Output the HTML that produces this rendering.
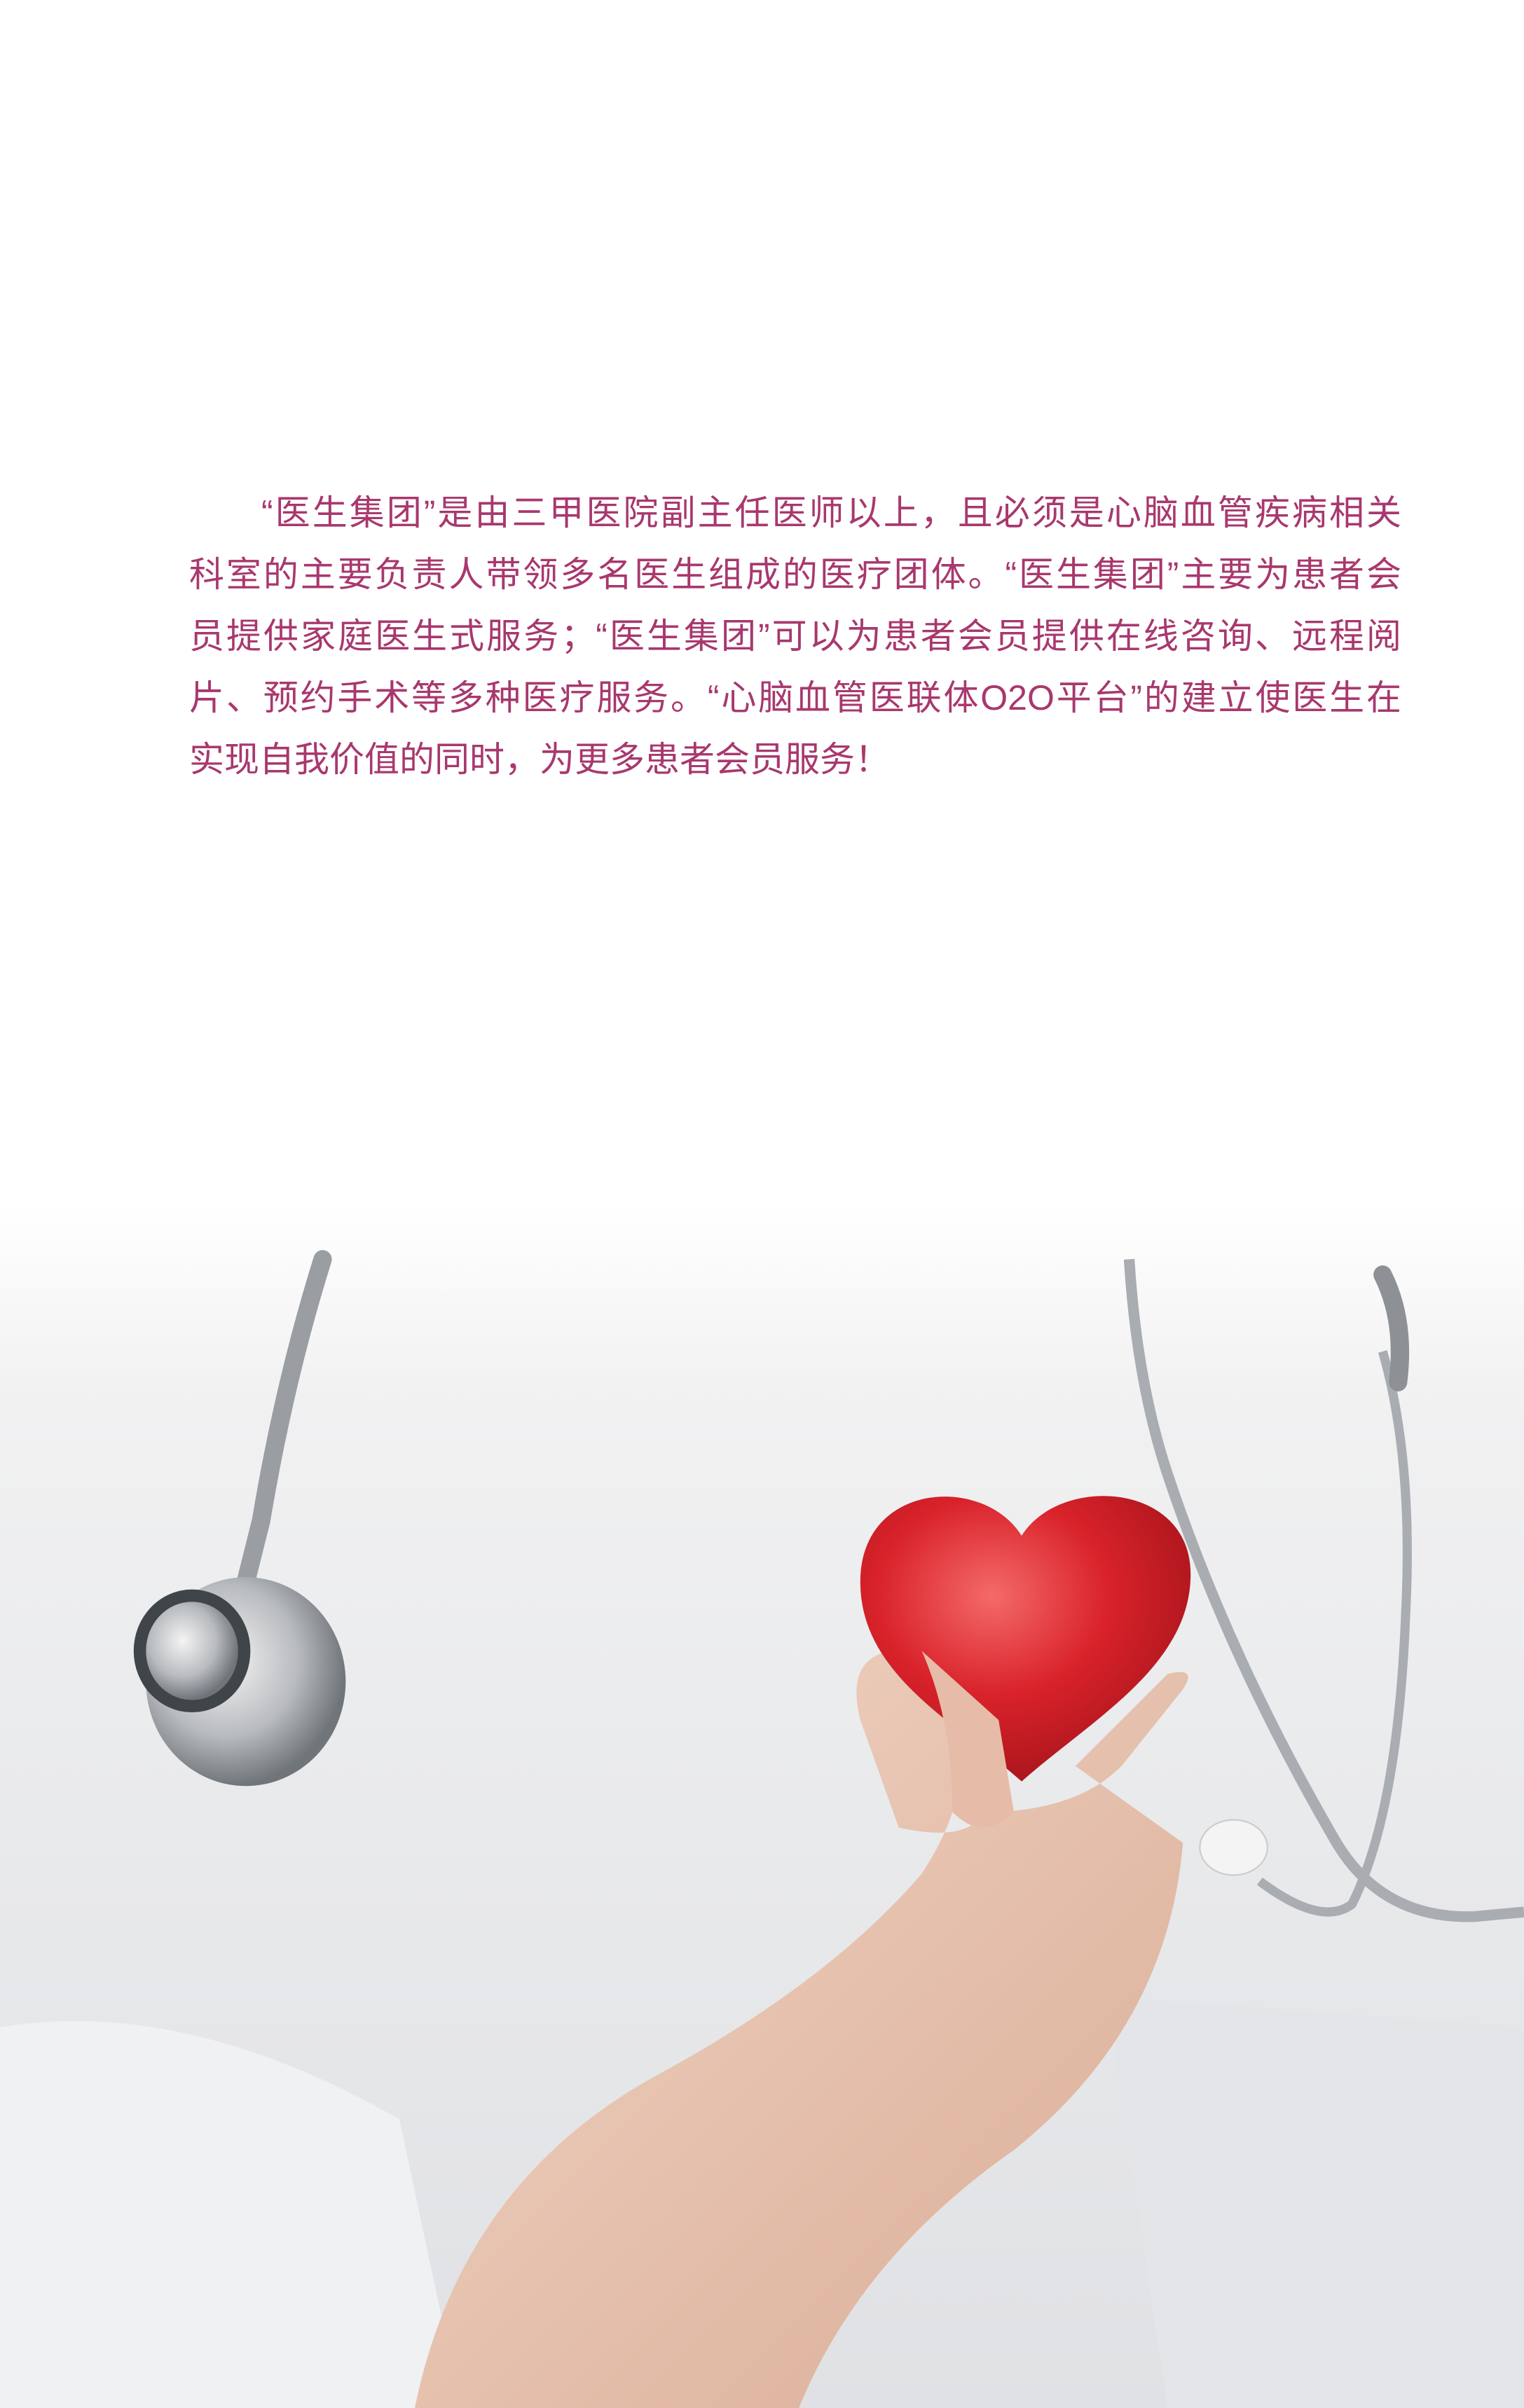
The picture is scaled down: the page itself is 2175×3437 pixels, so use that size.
<!DOCTYPE html>
<html><head><meta charset="utf-8"><style>
html,body{margin:0;padding:0;background:#fff}
#page{position:relative;width:2175px;height:3437px;overflow:hidden;background:#fff}
#photo{position:absolute;left:0;top:0;width:2175px;height:3437px}
#intro{position:absolute;left:270px;top:688px;width:1730px;font-family:"Liberation Sans","Noto Sans CJK SC",sans-serif;font-size:50px;line-height:88px;color:#a8386e}
#intro div{white-space:nowrap;text-align:justify;text-align-last:justify}
#intro div.last{text-align-last:left}
</style></head><body>
<div id="page">
<svg id="photo" viewBox="0 0 992 1568" preserveAspectRatio="none">
<defs>
<linearGradient id="fade" x1="0" y1="0" x2="0" y2="1">
<stop offset="0" stop-color="#fff"/><stop offset="0.5" stop-color="#fff"/><stop offset="0.58" stop-color="#f1f1f2"/><stop offset="0.75" stop-color="#e9eaec"/><stop offset="1" stop-color="#e0e1e4"/></linearGradient>
<radialGradient id="heart" cx="0.4" cy="0.35" r="0.7"><stop offset="0" stop-color="#f46a6a"/><stop offset="0.5" stop-color="#d9222a"/><stop offset="1" stop-color="#a5141b"/></radialGradient>
<radialGradient id="metal" cx="0.4" cy="0.4" r="0.6"><stop offset="0" stop-color="#f4f4f4"/><stop offset="0.6" stop-color="#b8bbbf"/><stop offset="1" stop-color="#70757a"/></radialGradient>
<linearGradient id="skin" x1="0" y1="0" x2="1" y2="1"><stop offset="0" stop-color="#f2d6c6"/><stop offset="1" stop-color="#d9ac95"/></linearGradient>
</defs>
<rect x="0" y="0" width="992" height="1568" fill="url(#fade)"/>
<path d="M0 1320 Q120 1300 260 1380 L300 1568 L0 1568 Z" fill="#f0f1f2"/>
<path d="M720 1300 L760 1568 L992 1568 L992 1320 Z" fill="#e4e5e8"/>
<path d="M210 820 Q185 900 170 990 L160 1030" stroke="#9a9ea3" stroke-width="12" fill="none" stroke-linecap="round"/>
<path d="M160 1030 L150 1060" stroke="#b5b8bc" stroke-width="8" fill="none"/>
<ellipse cx="160" cy="1095" rx="65" ry="68" fill="url(#metal)"/>
<ellipse cx="125" cy="1075" rx="38" ry="40" fill="#40454a"/>
<ellipse cx="125" cy="1075" rx="30" ry="32" fill="url(#metal)"/>
<path d="M735 820 Q740 900 760 960 Q800 1080 870 1200 Q900 1250 960 1248 L992 1245" stroke="#a9adb2" stroke-width="7" fill="none"/>
<path d="M900 880 Q920 950 915 1050 Q910 1180 880 1240 Q860 1255 820 1225" stroke="#a9adb2" stroke-width="6" fill="none"/>
<path d="M900 830 Q915 860 910 900" stroke="#8d9196" stroke-width="12" fill="none" stroke-linecap="round"/>
<ellipse cx="803" cy="1203" rx="22" ry="18" fill="#f4f4f4" stroke="#ccc"/>
<path d="M270 1568 Q300 1420 430 1350 Q540 1290 600 1220 Q640 1160 620 1100 L580 1075 Q550 1080 560 1120 L585 1190 Q630 1200 640 1180 Q700 1180 730 1150 L770 1100 Q780 1085 760 1090 L700 1150 L770 1200 Q760 1320 660 1400 Q560 1470 520 1568 Z" fill="url(#skin)"/>
<path d="M665 1000 C640 960 560 965 560 1030 C560 1090 620 1120 665 1160 C710 1120 775 1085 775 1025 C775 965 690 960 665 1000 Z" fill="url(#heart)"/>
<path d="M600 1075 Q620 1120 620 1180 Q640 1200 660 1180 L650 1120 Z" fill="#e6bca8"/>
</svg>
<div id="intro">
<div style="padding-left:103px">“医生集团”是由三甲医院副主任医师以上，且必须是心脑血管疾病相关</div>
<div>科室的主要负责人带领多名医生组成的医疗团体。“医生集团”主要为患者会</div>
<div>员提供家庭医生式服务；“医生集团”可以为患者会员提供在线咨询、远程阅</div>
<div>片、预约手术等多种医疗服务。“心脑血管医联体O2O平台”的建立使医生在</div>
<div class="last">实现自我价值的同时，为更多患者会员服务！</div>
</div>
</div>
</body></html>
